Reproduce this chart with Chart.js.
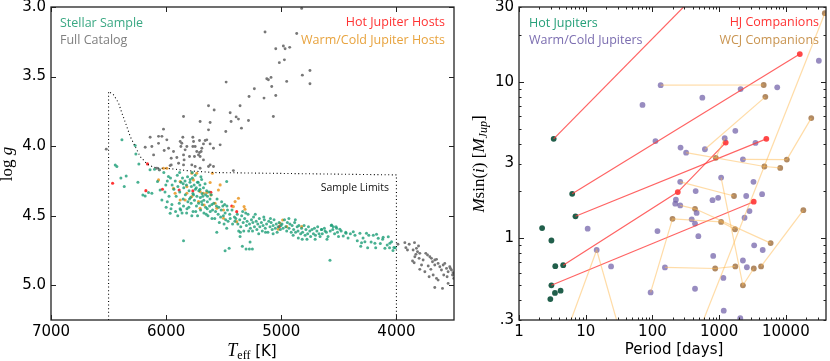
<!DOCTYPE html>
<html><head><meta charset="utf-8">
<script src="https://cdn.jsdelivr.net/npm/chart.js@4.4.1/dist/chart.umd.min.js"></script>
<style>
html,body{margin:0;padding:0;background:#fff;width:830px;height:361px;overflow:hidden;}
canvas{position:absolute;top:0;}
#c1{left:0;} #c2{left:460px;}
</style></head><body>
<canvas id="c1" width="460" height="361"></canvas>
<canvas id="c2" width="370" height="361"></canvas>
<script>
// ---------------- LEFT PANEL DATA (Teff [K], log g) ----------------
const teffTicks = [7000, 6000, 5000, 4000];
const loggTicks = [3.0, 3.5, 4.0, 4.5, 5.0];

const fullCatalog = [
 [4823,3.01],[5141,3.18],[4866,3.19],[5048,3.30],[4982,3.28],[4967,3.30],[4927,3.29],[5017,3.40],[4973,3.38],[4751,3.456],[4817,3.49],[4751,3.552],[5126,3.516],[5089,3.506],[5112,3.523],[4953,3.535],[5083,3.571],[5479,3.54],[5234,3.588],[5280,3.643],[5150,3.655],[5048,3.636],[5358,3.71],[5632,3.71],[5583,3.74],[5444,3.76],[5392,3.79],[5372,3.806],[5285,3.816],[5436,3.823],[5069,3.787],[5346,3.871],[5849,3.787],[5705,3.823],[5618,3.83],[5632,3.883],[5482,3.895],[6023,3.878],
 [6066,3.93],[6037,3.93],[5994,3.955],[6182,4.008],[6124,4.003],[6066,3.98],[5979,4.015],[6017,4.032],[6109,4.063],[5956,4.087],[5878,3.967],[5855,3.936],[5768,3.936],[5762,3.967],[5710,3.96],[5661,3.96],[5647,3.955],[5676,3.984],[5618,3.984],[5768,4.003],[5748,4.003],[5690,4.015],[5835,4.027],[5872,4.003],[5710,4.046],[5696,4.039],[5719,4.063],[5705,4.075],[5754,4.075],[5849,4.063],[5907,4.082],[5892,4.123],[5956,4.135],[5849,4.135],[5777,4.135],[5748,4.147],[5705,4.159],[5632,4.147],[5618,4.135],[5531,3.991],[5589,4.015],[5416,4.176],[6520,4.022],[6139,3.936],[5965,4.14],[5936,4.039],[5820,4.003],[5864,3.979],[6081,4.159],[6058,4.171],[5589,4.147],[5844,4.099],[5797,4.075],[5734,4.039],[5676,4.099],
 [3987,4.706],[3927,4.694],[3889,4.706],[3843,4.694],[3918,4.730],[3904,4.747],[3855,4.747],[3826,4.735],[3808,4.718],[3817,4.759],[3831,4.778],[3797,4.771],[3840,4.795],[3803,4.807],[3860,4.826],[3846,4.838],[3768,4.819],[3745,4.771],[3730,4.783],[3710,4.795],[3696,4.807],[3687,4.831],[3667,4.819],[3652,4.814],[3782,4.855],[3724,4.862],[3797,4.886],[3753,4.903],[3701,4.886],[3667,4.855],[3638,4.843],[3623,4.867],[3609,4.891],[3594,4.855],[3580,4.843],[3565,4.879],[3551,4.903],[3537,4.867],[3522,4.891],[3508,4.910],[3681,4.927],[3652,4.951],[3589,4.927],[3560,4.939],[3513,4.927],[3716,4.939],[3638,4.963],[3667,5.016],[3600,5.023],[3551,4.987],[3502,4.951],[3531,4.879]
];

const stellarSample = [
 [6442,4.135],[6428,4.147],[6384,3.955],[6269,3.996],[6393,4.23],[6347,4.214],[6364,4.29],[6245,4.26],[6263,4.056],[6237,4.128],[6202,4.351],[6182,4.358],[6153,4.334],[6124,4.339],[6101,4.166],[6075,4.255],[6052,4.315],[6037,4.387],[6003,4.279],[5965,4.483],[5980,4.219],[6140,4.17],[6060,4.17],[6020,4.19],[5990,4.25],[6010,4.33],[5975,4.36],[5950,4.42],[6000,4.44],[5990,4.40],
 [5962,4.23],[5948,4.28],[5933,4.31],[5921,4.25],[5913,4.36],[5903,4.21],[5898,4.29],[5886,4.41],[5882,4.33],[5871,4.26],[5873,4.46],[5858,4.23],[5852,4.38],[5847,4.30],[5849,4.43],[5836,4.25],[5833,4.35],[5822,4.48],[5824,4.28],[5811,4.40],[5814,4.22],[5801,4.32],[5803,4.44],[5793,4.26],[5788,4.37],[5781,4.29],[5783,4.41],[5772,4.23],[5768,4.34],[5766,4.47],[5757,4.28],[5754,4.39],[5746,4.31],[5748,4.21],[5737,4.43],[5733,4.36],[5728,4.26],[5727,4.50],[5716,4.32],[5718,4.41],[5707,4.28],[5703,4.37],[5701,4.46],[5692,4.24],[5688,4.34],[5687,4.42],[5676,4.30],[5673,4.39],[5672,4.48],[5662,4.27],[5658,4.35],[5657,4.44],[5648,4.32],[5642,4.40],[5641,4.36],[5637,4.50],[5628,4.33],[5623,4.43],[5619,4.38],[5617,4.47],[5608,4.35],[5603,4.42],[5602,4.52],[5883,4.19],[5774,4.19],[5698,4.22],[5852,4.27],[5791,4.24],[5762,4.35],[5738,4.30],[5706,4.31],[5682,4.36],[5819,4.45],[5879,4.45],[5918,4.47],[5777,4.50],[5743,4.47],[5652,4.49],[5958,4.45],[5899,4.50],[5862,4.48],[5797,4.38],[5722,4.26],[5693,4.40],[5643,4.45],[5597,4.46],
 [5587,4.41],[5571,4.47],[5563,4.43],[5548,4.49],[5543,4.44],[5527,4.51],[5522,4.46],[5508,4.43],[5503,4.50],[5488,4.48],[5483,4.53],[5467,4.46],[5462,4.54],[5448,4.49],[5444,4.52],[5428,4.46],[5423,4.56],[5407,4.51],[5403,4.54],[5578,4.52],[5538,4.55],[5497,4.56],[5472,4.43],[5518,4.40],[5558,4.38],[5492,4.42],[5474,4.255],
 [5395,4.52],[5382,4.49],[5377,4.56],[5361,4.53],[5352,4.58],[5344,4.50],[5331,4.55],[5326,4.61],[5318,4.52],[5303,4.57],[5297,4.54],[5289,4.49],[5276,4.56],[5268,4.59],[5259,4.53],[5247,4.55],[5241,4.51],[5233,4.58],[5218,4.54],[5212,4.60],[5204,4.56],[5191,4.52],[5186,4.58],[5173,4.55],[5165,4.61],[5158,4.57],[5147,4.53],[5139,4.59],[5128,4.56],[5116,4.62],[5109,4.54],[5098,4.58],[5088,4.55],[5079,4.60],[5071,4.57],[5063,4.53],[5052,4.59],[5044,4.56],[5036,4.62],[5027,4.58],[5019,4.55],[5008,4.60],[5003,4.57],[5355,4.62],[5283,4.61],[5196,4.63],[5137,4.62],[5071,4.63],[5309,4.48],[5226,4.49],[5152,4.51],[5094,4.52],[5250,4.61],[5335,4.47],[5370,4.61],
 [5849,4.68],[5488,4.752],[5453,4.735],[5338,4.72],[5306,4.74],[5277,4.74],[5251,4.74],[5271,4.69],[5474,4.59],[5358,4.65],[5560,4.62],
 [4994,4.56],[4985,4.59],[4972,4.53],[4961,4.58],[4953,4.61],[4947,4.55],[4933,4.59],[4925,4.56],[4914,4.62],[4906,4.57],[4893,4.60],[4884,4.55],[4876,4.62],[4862,4.58],[4855,4.61],[4847,4.57],[4832,4.63],[4824,4.59],[4815,4.62],[4802,4.57],[4793,4.64],[4786,4.60],[4771,4.63],[4764,4.58],[4752,4.61],[4745,4.65],[4733,4.60],[4721,4.63],[4712,4.59],[4703,4.64],[4691,4.61],[4684,4.58],[4672,4.63],[4663,4.65],[4651,4.60],[4644,4.63],[4626,4.59],[4608,4.62],[4594,4.65],[4575,4.61],[4566,4.57],[4553,4.60],[4537,4.63],[4524,4.58],[4512,4.62],[4503,4.65],[4897,4.64],[4852,4.66],[4818,4.67],[4777,4.67],[4706,4.67],[4603,4.67],[4934,4.52],[4878,4.53],[4577,4.82],
 [4563,4.567],[4548,4.58],[4519,4.59],[4491,4.598],[4650,4.60],[4620,4.61],[4375,4.615],[4360,4.64],[4317,4.627],[4260,4.627],[4303,4.694],[4201,4.64],[4173,4.634],[4158,4.663],[4115,4.656],[4100,4.735],[4071,4.651],[4057,4.699],[4042,4.687],[4022,4.728],[4187,4.699],[4274,4.687],[4438,4.627],[4462,4.646],
 [4480,4.61],[4440,4.62],[4420,4.66],[4400,4.63],[4340,4.68],[4290,4.66],[4240,4.64],[4220,4.69],[4140,4.70],[4120,4.67],[4080,4.71],[4060,4.73],[4030,4.75],[4010,4.73],[4310,4.72],[4180,4.73],[4250,4.73]
];

const wcjHosts = [
 [6066,4.243],[6023,4.159],[5994,4.159],[5922,4.339],[5878,4.255],[5820,4.291],[5777,4.195],[5734,4.195],[5705,4.327],[5676,4.339],[5647,4.334],[5612,4.351],[5618,4.262],[5598,4.195],[5546,4.315],[5531,4.279],[5777,4.363],[5719,4.399],[5670,4.423],[5575,4.411],[5560,4.447],[5502,4.459],[5416,4.435],[5401,4.399],[5372,4.375],[5323,4.435],[5315,4.454],[5502,4.519],[5387,4.543],[5011,4.555],[4988,4.531],[4953,4.579],[5026,4.598],[4823,4.579],[5835,4.387],[5936,4.303],[5878,4.387],[5763,4.243],[5705,4.447],[5820,4.339]
];

const hjHosts = [
 [6465,4.267],[6162,4.128],[6176,4.32],[6032,4.31],[5887,4.315],[5768,4.322],[5612,4.332],[5430,4.43],[5387,4.471],[5017,4.579]
];

const sampleLimits = [
 [6500,5.25],[6500,3.607],[6457,3.631],[6413,3.691],[6384,3.763],[6347,3.847],[6312,3.931],[6269,4.003],[6225,4.075],[6167,4.128],[6110,4.152],[6052,4.159],[5994,4.159],[5820,4.176],[5589,4.19],[4000,4.207],[4000,5.25]
];

// ---------------- RIGHT PANEL DATA (Period [days], M sin i [M_Jup]) ----------------
const periodTicks = [1, 10, 100, 1000, 10000];
const massTicks = [0.3, 1, 3, 10, 30];
const massTickLabels = ['.3', '1', '3', '10', '30'];

const hotJupiters = [[3.31,4.31],[6.27,1.92],[7.03,1.38],[2.22,1.16],[3.06,0.966],[3.5,0.662],[4.6,0.672],[3.06,0.50],[3.46,0.447],[4.2,0.462],[2.95,0.408]];

const warmColdJupiters = [
 [10.7,1.15],[14.6,0.84],[24.0,0.66],[71,7.1],[111,4.17],[119,1.11],[94,0.45],[133,9.5],[154,0.65],[264,3.79],[320,3.52],[261,2.29],[225,1.76],[220,1.66],[261,1.62],[460,1.45],[388,1.32],[435,1.24],[488,1.03],[445,2.0],[1071,2.44],[796,1.75],[966,1.81],[2547,1.86],[3273,2.29],[4406,1.91],[2851,1.49],[2404,1.35],[3350,0.90],[4500,0.84],[815,0.77],[1159,0.557],[435,0.475],[2272,0.72],[2606,0.652],[1173,0.344],[2075,0.308],[612,3.70],[560,7.9],[1213,4.35],[1749,4.85],[2099,8.97],[2272,3.19],[3506,4.06],[7430,9.2],[31260,13.6]
];

const hjCompanions = [[240,1.97],[1255,4.08],[16200,15.0],[5100,4.31],[3300,1.71]];

const wcjCompanions = [
 [4660,9.52],[4930,8.0],[24050,5.85],[892,3.26],[4770,2.87],[8240,2.81],[10350,3.18],[38400,27.4],[435,1.54],[1671,1.86],[1071,1.27],[1729,1.14],[5920,0.93],[18300,1.51],[3311,0.64],[4253,0.66],[1749,0.66],[872,0.64],[2272,0.50],[200,1.33]
];

// planets of one system, joined in order of period
const hjSystems = [
 [[3.31,4.31],[1000,51]],
 [[6.27,1.92],[16200,15.0]],
 [[7.03,1.38],[5100,4.31]],
 [[4.6,0.672],[240,1.97],[1255,4.08]],
 [[3.06,0.50],[3300,1.71]]
];

const wcjSystems = [
 [[133,9.5],[4660,9.52]],
 [[612,3.70],[4930,8.0]],
 [[320,3.52],[4770,2.87],[8240,2.81]],
 [[94,0.45],[200,1.33],[1071,1.27],[1729,1.14]],
 [[154,0.65],[872,0.64],[1749,0.66]],
 [[261,2.29],[1671,1.86]],
 [[4253,0.66],[18300,1.51]],
 [[4.25,0.2],[14.6,0.84],[38,0.2]],
 [[400,0.2],[38400,27.4]],
 [[1071,2.44],[2272,0.50],[3311,0.64]],
 [[261,1.62],[435,1.54],[5920,0.93]],
 [[892,3.26],[1213,4.35]],
 [[2272,3.19],[10350,3.18],[24050,5.85]]
];

// ---------------- helpers ----------------
const pts = arr => arr.map(p => ({x: p[0], y: p[1]}));

function drawRuns(ctx, runs, x, y, align) {
  let w = 0;
  runs.forEach(r => { ctx.font = r.font; w += ctx.measureText(r.t).width; });
  let cx = align === 'center' ? x - w / 2 : (align === 'right' ? x - w : x);
  ctx.textAlign = 'left'; ctx.textBaseline = 'alphabetic';
  runs.forEach(r => { ctx.font = r.font; ctx.fillText(r.t, cx, y + (r.dy || 0)); cx += ctx.measureText(r.t).width; });
}

function fixScale(size) {
  return function (scale) {
    if (scale.isHorizontal()) scale.height = size; else scale.width = size;
    scale.paddingTop = 0; scale.paddingBottom = 0; scale.paddingLeft = 0; scale.paddingRight = 0;
  };
}

const framePlugin = {
  id: 'frameTicks',
  afterDatasetsDraw(chart, args, o) {
    const {ctx, chartArea: a} = chart;
    const xs = chart.scales.x, ys = chart.scales.y;
    ctx.save();
    ctx.strokeStyle = '#222';
    ctx.lineWidth = 1;
    const tx = (v, len) => { const p = Math.round(xs.getPixelForValue(v)) + 0.5; if (p < a.left || p > a.right) return;
      ctx.beginPath(); ctx.moveTo(p, a.bottom); ctx.lineTo(p, a.bottom - len); ctx.moveTo(p, a.top); ctx.lineTo(p, a.top + len); ctx.stroke(); };
    const ty = (v, len) => { const p = Math.round(ys.getPixelForValue(v)) + 0.5; if (p < a.top - 0.5 || p > a.bottom + 0.5) return;
      ctx.beginPath(); ctx.moveTo(a.left, p); ctx.lineTo(a.left + len, p); ctx.moveTo(a.right, p); ctx.lineTo(a.right - len, p); ctx.stroke(); };
    (o.xMajor || []).forEach(v => tx(v, 5));
    (o.xMinor || []).forEach(v => tx(v, 2.5));
    (o.yMajor || []).forEach(v => ty(v, 5));
    (o.yMinor || []).forEach(v => ty(v, 2.5));
    ctx.lineWidth = 1.3;
    ctx.strokeRect(a.left, a.top, a.right - a.left, a.bottom - a.top);
    ctx.restore();
  }
};

const textPlugin = {
  id: 'texts',
  afterDraw(chart, args, o) {
    const ctx = chart.ctx;
    ctx.save();
    (o.items || []).forEach(it => {
      ctx.fillStyle = it.color || '#000';
      if (it.rotate) {
        ctx.save(); ctx.translate(it.x, it.y); ctx.rotate(-Math.PI / 2);
        drawRuns(ctx, it.runs, 0, 0, 'center'); ctx.restore();
      } else drawRuns(ctx, it.runs, it.x, it.y, it.align || 'left');
    });
    ctx.restore();
  }
};

const tickFont = {family: 'DejaVu Sans', size: 15};
const legFont = '12.5px "Open Sans"';
const serif = '"Liberation Serif"';

// ---------------- LEFT CHART ----------------
new Chart(document.getElementById('c1'), {
  type: 'scatter',
  data: {datasets: [
    {data: pts(sampleLimits), showLine: true, borderColor: '#000', borderWidth: 1.1, borderDash: [1, 2.6], pointRadius: 0, fill: false, tension: 0},
    {data: pts(fullCatalog), backgroundColor: '#777777', pointRadius: 1.45, borderWidth: 0},
    {data: pts(stellarSample), backgroundColor: 'rgba(27,158,119,0.8)', pointRadius: 1.5, borderWidth: 0},
    {data: pts(wcjHosts), backgroundColor: 'rgba(235,155,45,0.9)', pointRadius: 1.55, borderWidth: 0},
    {data: pts(hjHosts), backgroundColor: 'rgba(255,30,30,0.9)', pointRadius: 1.55, borderWidth: 0}
  ]},
  options: {
    responsive: false, animation: false, events: [],
    layout: {padding: {left: 0, right: 6, top: 7, bottom: 0}},
    plugins: {legend: {display: false}, tooltip: {enabled: false},
      frameTicks: {xMajor: teffTicks, yMajor: loggTicks},
      texts: {items: [
        {runs: [{t: 'Stellar Sample', font: legFont}], x: 60, y: 26.5, color: '#3aa883'},
        {runs: [{t: 'Full Catalog', font: legFont}], x: 60, y: 44, color: '#808080'},
        {runs: [{t: 'Hot Jupiter Hosts', font: legFont}], x: 445, y: 26, color: '#ff3333', align: 'right'},
        {runs: [{t: 'Warm/Cold Jupiter Hosts', font: legFont}], x: 445, y: 44, color: '#e8a33e', align: 'right'},
        {runs: [{t: 'Sample Limits', font: '10.5px "Open Sans"'}], x: 389, y: 191, color: '#111', align: 'right'},
        {runs: [{t: 'T', font: 'italic 18px ' + serif}, {t: 'eff', font: '12px ' + serif, dy: 3}, {t: ' [K]', font: '15px "DejaVu Sans"'}], x: 252, y: 356, align: 'center'},
        {runs: [{t: 'log ', font: '17px ' + serif}, {t: 'g', font: 'italic 17px ' + serif}], x: 12, y: 164, rotate: true}
      ]}
    },
    scales: {
      x: {type: 'linear', min: 3500, max: 7000, reverse: true, afterFit: fixScale(41),
        afterBuildTicks: s => { s.ticks = teffTicks.map(v => ({value: v})); },
        grid: {display: false, drawTicks: false}, border: {display: false},
        ticks: {font: tickFont, color: '#000', padding: 3, autoSkip: false, maxRotation: 0, callback: v => String(v)}},
      y: {type: 'linear', min: 3.0, max: 5.25, reverse: true, afterFit: fixScale(51),
        afterBuildTicks: s => { s.ticks = loggTicks.map(v => ({value: v})); },
        grid: {display: false, drawTicks: false}, border: {display: false},
        ticks: {font: tickFont, color: '#000', padding: 5, autoSkip: false, callback: v => Number(v).toFixed(1)}}
    }
  },
  plugins: [framePlugin, textPlugin]
});

// ---------------- RIGHT CHART ----------------
const minorP = [], minorM = [];
[1, 10, 100, 1000, 10000].forEach(d => { for (let k = 2; k <= 9; k++) if (d * k <= 40000) minorP.push(d * k); });
[0.1, 1, 10].forEach(d => { for (let k = 2; k <= 9; k++) { const v = d * k; if (v >= 0.3 && v <= 30) minorM.push(v); } });

const lineSets = [];
wcjSystems.forEach(s => lineSets.push({data: pts(s), showLine: true, borderColor: 'rgba(255,185,80,0.5)', borderWidth: 1.2, pointRadius: 0, tension: 0}));
hjSystems.forEach(s => lineSets.push({data: pts(s), showLine: true, borderColor: 'rgba(255,60,60,0.8)', borderWidth: 1.2, pointRadius: 0, tension: 0}));

new Chart(document.getElementById('c2'), {
  type: 'scatter',
  data: {datasets: lineSets.concat([
    {data: pts(warmColdJupiters), backgroundColor: 'rgba(112,95,168,0.72)', pointRadius: 2.9, borderWidth: 0},
    {data: pts(wcjCompanions), backgroundColor: 'rgba(155,105,55,0.78)', pointRadius: 2.9, borderWidth: 0},
    {data: pts(hotJupiters), backgroundColor: '#215f4b', pointRadius: 2.9, borderWidth: 0},
    {data: pts(hjCompanions), backgroundColor: 'rgba(255,40,40,0.85)', pointRadius: 2.9, borderWidth: 0}
  ])},
  options: {
    responsive: false, animation: false, events: [],
    layout: {padding: {left: 0, right: 1, top: 7, bottom: 0}},
    plugins: {legend: {display: false}, tooltip: {enabled: false},
      frameTicks: {xMajor: periodTicks, xMinor: minorP, yMajor: [1, 10], yMinor: minorM},
      texts: {items: [
        {runs: [{t: 'Hot Jupiters', font: legFont}], x: 69, y: 26.5, color: '#27a07a'},
        {runs: [{t: 'Warm/Cold Jupiters', font: legFont}], x: 69, y: 44, color: '#7b6db0'},
        {runs: [{t: 'HJ Companions', font: legFont}], x: 359, y: 26, color: '#ff3333', align: 'right'},
        {runs: [{t: 'WCJ Companions', font: legFont}], x: 359, y: 44, color: '#c99450', align: 'right'},
        {runs: [{t: 'Period [days]', font: '15px "DejaVu Sans"'}], x: 214, y: 354, align: 'center'},
        {runs: [{t: 'M', font: 'italic 17px ' + serif}, {t: 'sin(', font: '17px ' + serif}, {t: 'i', font: 'italic 17px ' + serif}, {t: ') [', font: '17px ' + serif},
                {t: 'M', font: 'italic 17px ' + serif}, {t: 'Jup', font: 'italic 12px ' + serif, dy: 3}, {t: ']', font: '17px ' + serif}], x: 24, y: 164, rotate: true}
      ]}
    },
    scales: {
      x: {type: 'logarithmic', min: 1, max: 40000, afterFit: fixScale(41),
        afterBuildTicks: s => { s.ticks = periodTicks.map(v => ({value: v})); },
        grid: {display: false, drawTicks: false}, border: {display: false},
        ticks: {font: tickFont, color: '#000', padding: 3, autoSkip: false, maxRotation: 0, callback: v => String(v)}},
      y: {type: 'logarithmic', min: 0.3, max: 30, afterFit: fixScale(59),
        afterBuildTicks: s => { s.ticks = massTicks.map(v => ({value: v})); },
        grid: {display: false, drawTicks: false}, border: {display: false},
        ticks: {font: tickFont, color: '#000', padding: 5, autoSkip: false,
          callback: (v, i) => massTickLabels[massTicks.indexOf(v)] ?? massTickLabels[i]}}
    }
  },
  plugins: [framePlugin, textPlugin]
});
</script>
</body></html>
